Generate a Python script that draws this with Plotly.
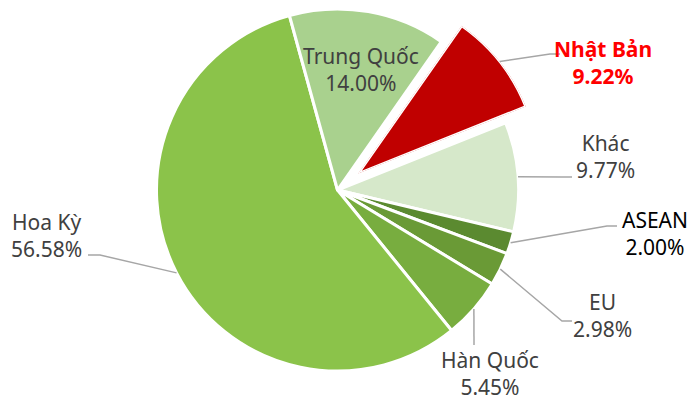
import math
import plotly.graph_objects as go

W, H = 692, 400

# Export market shares (%), clockwise from the detached slice
labels = ["Nhật Bản", "Khác", "ASEAN", "EU", "Hàn Quốc", "Hoa Kỳ", "Trung Quốc"]
shares = [9.22, 9.77, 2.00, 2.98, 5.45, 56.58, 14.00]
colors = ["#C00000", "#D6E8CA", "#5B8A30", "#6A9A36", "#78AD3F", "#8BC34A", "#A9D18E"]
highlight = "Nhật Bản"

# Pie geometry in pixels
CX, CY, R = 337.5, 190.0, 181.0
START = 35.0          # first slice edge, degrees clockwise from 12 o'clock
PULL_PX = 26.0        # offset of the detached slice
BORDER = 3

FONT = "Noto Sans"
FS = 21
GRAY = "#404040"

# Label placement: (centre x, centre y, colour, bold, leader elbow, leader end)
label_style = {
    "Nhật Bản":   (603, 63, "#FF0000", True, (550, 54), (560, 54)),
    "Khác":       (605, 156, GRAY, False, (562, 177), (572, 177)),
    "ASEAN":      (655, 233, "#000000", False, (607, 226), (617, 226)),
    "EU":         (602, 315, GRAY, False, (562, 321), (572, 321)),
    "Hàn Quốc":   (490, 373, GRAY, False, None, (474, 345)),
    "Hoa Kỳ":     (47, 235, GRAY, False, (100, 255), (88, 255)),
    "Trung Quốc": (361, 69, GRAY, False, None, None),
}


def px(x):
    return x / W


def py(y):
    return 1 - y / H


# Slice angles (compass degrees) from the data
total = sum(shares)
bounds = []
a = START
for v in shares:
    span = 360.0 * v / total
    bounds.append((a, a + span))
    a += span

fig = go.Figure()

# Main pie; the highlighted slice is left empty here and drawn detached below
pie_fill = ["rgba(0,0,0,0)" if l == highlight else c for l, c in zip(labels, colors)]
pie_line = ["rgba(0,0,0,0)" if l == highlight else "white" for l in labels]
fig.add_trace(go.Pie(
    labels=labels, values=shares, sort=False, direction="clockwise",
    rotation=START, textinfo="none", showlegend=False,
    hovertemplate="%{label}: %{value:.2f}%<extra></extra>",
    marker=dict(colors=pie_fill, line=dict(color=pie_line, width=BORDER)),
    domain=dict(x=[px(CX - R), px(CX + R)], y=[py(CY + R), py(CY - R)]),
))

# Detached slice on its own polar sector
hi = labels.index(highlight)
a0, a1 = bounds[hi]
mid = (a0 + a1) / 2
vx = CX + PULL_PX * math.sin(math.radians(mid))
vy = CY - PULL_PX * math.cos(math.radians(mid))
m0, m1 = 90 - a1, 90 - a0
angs = [m0, m1] + [k * 90 for k in range(-4, 9) if m0 < k * 90 < m1]
xs = [0] + [math.cos(math.radians(t)) for t in angs]
ys = [0] + [math.sin(math.radians(t)) for t in angs]
dom_x = [px(vx + R * min(xs)), px(vx + R * max(xs))]
dom_y = [py(vy - R * min(ys)), py(vy - R * max(ys))]

fig.add_trace(go.Barpolar(
    r=[1], theta=[mid], width=[a1 - a0], name=highlight, showlegend=False,
    marker=dict(color=colors[hi], line=dict(color="white", width=BORDER)),
    hovertemplate=f"{highlight}: {shares[hi]:.2f}%<extra></extra>",
))

annotations = []
shapes = []
for i, (lab, val) in enumerate(zip(labels, shares)):
    x, y, col, bold, elbow, end = label_style[lab]
    txt = f"{lab}<br>{val:.2f}%"
    if bold:
        txt = f"<b>{lab}</b><br><b>{val:.2f}%</b>"
    annotations.append(dict(
        x=px(x), y=py(y), xref="paper", yref="paper", text=txt,
        showarrow=False, xanchor="center", yanchor="middle", align="center",
        font=dict(family=FONT, size=FS, color=col),
    ))
    if end is None:
        continue
    b0, b1 = bounds[i]
    m = math.radians((b0 + b1) / 2)
    ox, oy = (vx - CX, vy - CY) if lab == highlight else (0.0, 0.0)
    sx = CX + ox + R * math.sin(m)
    sy = CY + oy - R * math.cos(m)
    pts = [(sx, sy)] + ([elbow] if elbow else []) + [end]
    path = "M " + " L ".join(f"{px(p[0]):.5f},{py(p[1]):.5f}" for p in pts)
    shapes.append(dict(type="path", path=path, xref="paper", yref="paper",
                       line=dict(color="#A6A6A6", width=1.5)))

fig.update_layout(
    width=W, height=H,
    margin=dict(l=0, r=0, t=0, b=0),
    paper_bgcolor="white", plot_bgcolor="white",
    showlegend=False,
    polar=dict(
        domain=dict(x=dom_x, y=dom_y),
        sector=[m0, m1],
        hole=0,
        bgcolor="rgba(0,0,0,0)",
        angularaxis=dict(rotation=90, direction="clockwise", visible=False),
        radialaxis=dict(range=[0, 1], visible=False),
    ),
    annotations=annotations,
    shapes=shapes,
)

fig.write_html("out.html")
